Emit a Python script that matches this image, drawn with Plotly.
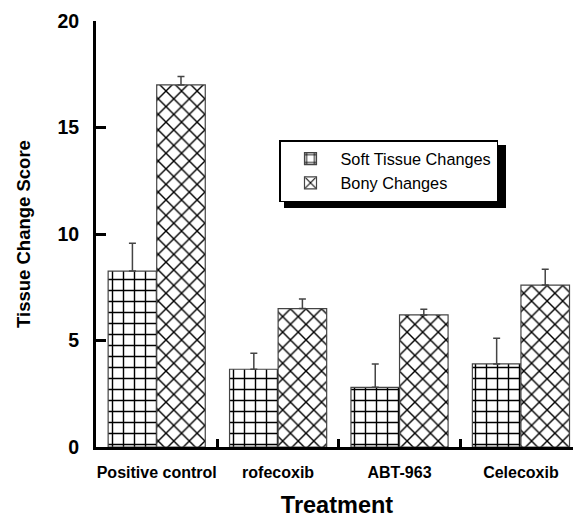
import plotly.graph_objects as go

categories = ["Positive control", "rofecoxib", "ABT-963", "Celecoxib"]
soft_values = [8.26, 3.65, 2.8, 3.9]
soft_err = [1.3, 0.75, 1.1, 1.2]
bony_values = [17.0, 6.5, 6.2, 7.6]
bony_err = [0.4, 0.45, 0.27, 0.75]
y_ticks = [0, 5, 10, 15, 20]

FONT = "Liberation Sans, Arial, sans-serif"

# page body has an 8px margin; the figure is sized so the plot lands where the reference has it
W, H = 573, 510
L, R, T, B = 88, 3, 13, 71
PW, PH = W - L - R, H - T - B


def px(xv):  # viewport x -> paper
    return (xv - 8 - L) / PW


def py(yv):  # viewport y -> paper
    return (H - B - (yv - 8)) / PH


fig = go.Figure()
fig.add_trace(go.Bar(
    name="Soft Tissue Changes", x=categories, y=soft_values,
    marker=dict(color="white", line=dict(color="#444", width=1.2),
                pattern=dict(shape="+", size=11, solidity=0.24, fgcolor="black", bgcolor="white", fillmode="replace")),
    error_y=dict(type="data", array=soft_err, arrayminus=[0]*4, symmetric=False,
                 color="#444", thickness=1.5, width=3.5),
))
fig.add_trace(go.Bar(
    name="Bony Changes", x=categories, y=bony_values,
    marker=dict(color="white", line=dict(color="#444", width=1.2),
                pattern=dict(shape="x", size=11, solidity=0.24, fgcolor="black", bgcolor="white", fillmode="replace")),
    error_y=dict(type="data", array=bony_err, arrayminus=[0]*4, symmetric=False,
                 color="#444", thickness=1.5, width=3.5),
))

fig.update_layout(
    width=W, height=H,
    margin=dict(l=L, r=R, t=T, b=B),
    paper_bgcolor="white", plot_bgcolor="white",
    barmode="group", bargap=0.2, bargroupgap=0,
    showlegend=True,
    legend=dict(x=px(279), y=py(140), xanchor="left", yanchor="top",
                bgcolor="white", bordercolor="black", borderwidth=1.5,
                font=dict(family=FONT, size=16.3, color="black"),
                itemwidth=50, tracegroupgap=0),
    font=dict(family=FONT, color="black"),
    xaxis=dict(
        range=[-0.5, 3.47], showline=True, linecolor="black", linewidth=3,
        ticks="inside", tickson="boundaries", ticklen=8, tickwidth=3, tickcolor="black",
        tickangle=0, automargin=False, ticklabelstandoff=9,
        tickfont=dict(family=FONT, size=16, color="black", weight="bold"),
        title=dict(text="<b>Treatment</b>", font=dict(family=FONT, size=23.5, color="black"), standoff=20),
        showgrid=False, zeroline=False,
    ),
    yaxis=dict(
        range=[0, 20], tickvals=y_ticks, showline=True, linecolor="black", linewidth=3,
        ticks="inside", ticklen=10, tickwidth=3, tickcolor="black",
        automargin=False, ticklabelstandoff=10,
        tickfont=dict(family=FONT, size=19.5, color="black", weight="bold"),
        title=dict(text="<b>Tissue Change Score</b>", font=dict(family=FONT, size=18.5, color="black"), standoff=22),
        showgrid=False, zeroline=False,
    ),
    shapes=[dict(type="rect", xref="paper", yref="paper",
                 x0=px(284), x1=px(506), y0=py(208), y1=py(145),
                 fillcolor="black", line=dict(width=0), layer="above")],
)

fig.write_html("out.html")
